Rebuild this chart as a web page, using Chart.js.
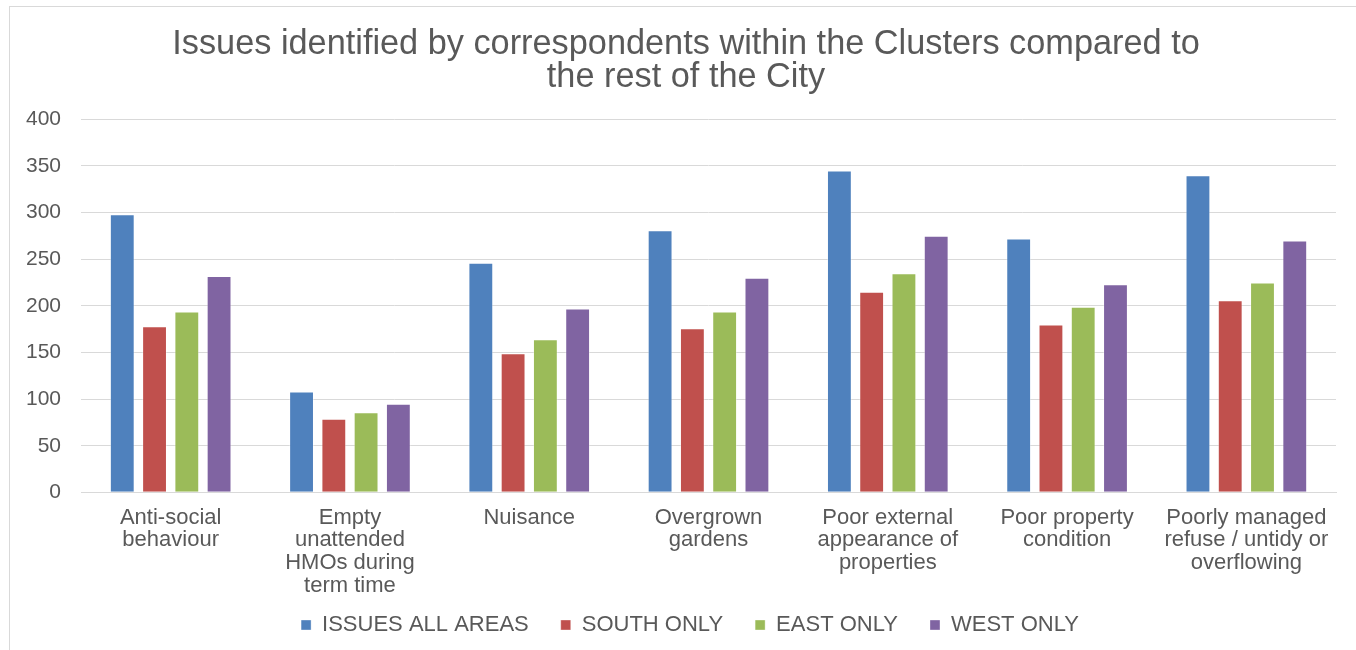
<!DOCTYPE html>
<html>
<head>
<meta charset="utf-8">
<script src="https://cdn.jsdelivr.net/npm/chart.js@4/dist/chart.umd.min.js"></script>
<style>
  html, body { margin: 0; padding: 0; background: #fff; overflow: hidden; }
  #frame { position: absolute; left: 9px; top: 6px; width: 1400px; height: 700px; border-left: 1px solid #d9d9d9; border-top: 1px solid #d9d9d9; }
  #wrap { position: absolute; left: 0; top: 0; width: 1356px; height: 650px; }
</style>
</head>
<body>
<div id="frame"></div>
<div id="wrap"><canvas id="c" width="1356" height="650"></canvas></div>
<script>
const titleLines = ["Issues identified by correspondents within the Clusters compared to", "the rest of the City"];
const categories = [
  ["Anti-social", "behaviour"],
  ["Empty", "unattended", "HMOs during", "term time"],
  ["Nuisance"],
  ["Overgrown", "gardens"],
  ["Poor external", "appearance of", "properties"],
  ["Poor property", "condition"],
  ["Poorly managed", "refuse / untidy or", "overflowing"]
];
const seriesNames = ["ISSUES ALL AREAS", "SOUTH ONLY", "EAST ONLY", "WEST ONLY"];
const allAreas = [298, 108, 246, 281, 345, 272, 340];
const southOnly = [178, 79, 149, 176, 215, 180, 206];
const eastOnly = [194, 86, 164, 194, 235, 199, 225];
const westOnly = [232, 95, 197, 230, 275, 223, 270];
const seriesColors = ["#4F81BD", "#C0504D", "#9BBB59", "#8064A2"];

const FONT = "'Liberation Sans', Arial, sans-serif";
const TXT = "#595959";
const values = [allAreas, southOnly, eastOnly, westOnly];

const LEGEND_PAD = 11;      // vertical layout padding of the legend
const LEGEND_GAP = 32;      // horizontal spacing between legend items
const TITLE_CENTER = 686;
const LEGEND_CENTER = 690;

const shiftPlugin = {
  id: 'shiftBlocks',
  afterLayout(chart) {
    const t = chart.titleBlock;
    if (t) {
      const d = TITLE_CENTER - (t.left + t.right) / 2;
      t.left += d; t.right += d;
    }
    const lg = chart.legend;
    if (lg && lg.lineWidths) {
      const n = chart.data.datasets.length;
      const extra = LEGEND_GAP - LEGEND_PAD;
      try {
        lg.options.labels.padding = LEGEND_GAP;
        lg.top -= extra;
        lg.lineWidths[0] += n * extra;
      } catch (e) {}
      const d = LEGEND_CENTER - (lg.left + lg.right) / 2;
      lg.left += d; lg.right += d;
    }
  }
};

new Chart(document.getElementById('c'), {
  type: 'bar',
  data: {
    labels: categories,
    datasets: seriesNames.map((n, i) => ({
      label: n,
      data: values[i],
      backgroundColor: seriesColors[i],
      borderColor: 'rgba(255,255,255,0.35)',
      borderWidth: 1,
      barPercentage: 0.77,
      categoryPercentage: 0.72
    }))
  },
  plugins: [shiftPlugin],
  options: {
    responsive: false,
    animation: false,
    events: [],
    layout: { padding: { left: 6, right: 20, top: 0, bottom: 4 } },
    plugins: {
      title: {
        display: true,
        text: titleLines,
        color: TXT,
        font: { family: FONT, size: 34.3, weight: 'normal', lineHeight: 0.965 },
        padding: { top: 28, bottom: 25 }
      },
      legend: {
        position: 'bottom',
        labels: {
          color: TXT,
          font: { family: FONT, size: 22 },
          boxWidth: 10,
          boxHeight: 10,
          padding: LEGEND_PAD
        }
      },
      tooltip: { enabled: false }
    },
    scales: {
      x: {
        grid: { display: false },
        border: { display: true, color: '#d9d9d9' },
        ticks: {
          color: TXT,
          font: { family: FONT, size: 22, lineHeight: 1.03 },
          padding: 6,
          maxRotation: 0,
          autoSkip: false
        }
      },
      y: {
        min: 0,
        max: 400,
        grid: { color: '#d9d9d9', lineWidth: 1, drawTicks: false },
        border: { display: false },
        ticks: {
          stepSize: 50,
          color: TXT,
          font: { family: FONT, size: 21 },
          padding: 20
        }
      }
    }
  }
});
</script>
</body>
</html>
